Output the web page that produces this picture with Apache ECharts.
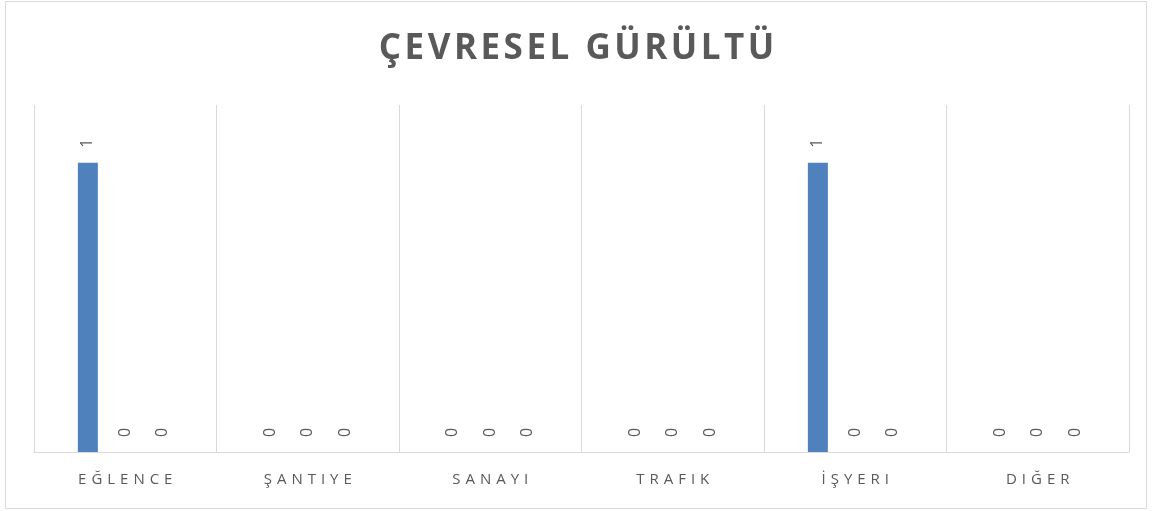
<!DOCTYPE html>
<html>
<head>
<meta charset="utf-8">
<script src="https://cdn.jsdelivr.net/npm/echarts@6/dist/echarts.min.js"></script>
<style>
  html, body { margin: 0; padding: 0; background: #fff; }
  #chart { width: 1153px; height: 511px; }
</style>
</head>
<body>
<div id="chart"></div>
<script>
const categories = ["EĞLENCE", "ŞANTIYE", "SANAYI", "TRAFIK", "İŞYERI", "DIĞER"];
const series1 = [1, 0, 0, 0, 1, 0];
const series2 = [0, 0, 0, 0, 0, 0];
const series3 = [0, 0, 0, 0, 0, 0];
const seriesColors = ["#4f81bd", "#c0504d", "#9bbb59"];
const titleText = "ÇEVRESEL GÜRÜLTÜ";

// spread letters out a bit, like the original
const spaced = (s, gap) => s.split("").join(gap);

const labelStyle = {
  show: true,
  position: "top",
  rotate: 90,
  align: "left",
  verticalAlign: "middle",
  distance: 15,
  color: "#595959",
  fontSize: 16,
  fontFamily: "Open Sans",
};

const makeSeries = (data, color) => ({
  type: "bar",
  data: data,
  barWidth: 20,
  barGap: "87%",
  itemStyle: { color: color },
  label: labelStyle,
});

const chart = echarts.init(document.getElementById("chart"));
chart.setOption({
  animation: false,
  title: {
    text: spaced(titleText, "\u200a"),
    left: "center",
    top: 27,
    textStyle: {
      color: "#595959",
      fontSize: 35,
      fontWeight: "bold",
      fontFamily: "Open Sans",
    },
  },
  graphic: [
    {
      type: "rect",
      shape: { x: 5.5, y: 1.5, width: 1141, height: 507 },
      style: { fill: "none", stroke: "#d9d9d9", lineWidth: 1 },
    },
  ],
  grid: { left: 34, right: 24, top: 105, bottom: 59 },
  xAxis: {
    type: "category",
    data: categories,
    axisLine: { lineStyle: { color: "#d9d9d9" } },
    axisTick: { show: false },
    splitLine: { show: true, lineStyle: { color: "#d9d9d9" } },
    axisLabel: {
      color: "#595959",
      fontSize: 15,
      fontFamily: "Open Sans",
      margin: 20,
      formatter: (v) => spaced(v, "\u2009\u2009"),
    },
  },
  yAxis: {
    type: "value",
    min: 0,
    max: 1.2,
    show: false,
    splitLine: { show: false },
  },
  series: [
    makeSeries(series1, seriesColors[0]),
    makeSeries(series2, seriesColors[1]),
    makeSeries(series3, seriesColors[2]),
  ],
});
</script>
</body>
</html>
